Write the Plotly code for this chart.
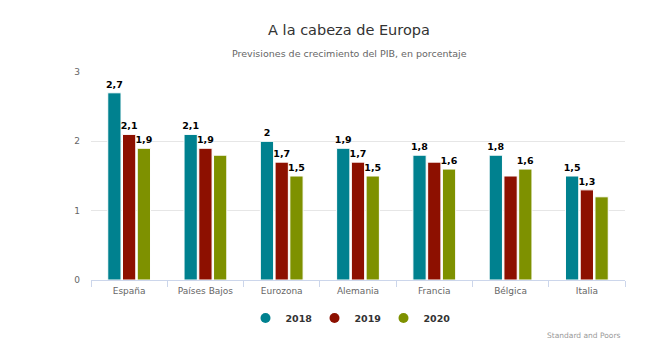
import plotly.graph_objects as go

categories = ["España", "Países Bajos", "Eurozona", "Alemania", "Francia", "Bélgica", "Italia"]
years = ["2018", "2019", "2020"]
v2018 = [2.7, 2.1, 2.0, 1.9, 1.8, 1.8, 1.5]
v2019 = [2.1, 1.9, 1.7, 1.7, 1.7, 1.5, 1.3]
v2020 = [1.9, 1.8, 1.5, 1.5, 1.6, 1.6, 1.2]
# labels hidden in the original (overlap)
show2018 = [True, True, True, True, True, True, True]
show2019 = [True, True, True, True, False, False, True]
show2020 = [True, False, True, True, True, True, False]
colors = ["#00818f", "#8d1000", "#7e9100"]

FONT = "DejaVu Sans"

def fmt(v):
    s = ("%g" % v).replace(".", ",")
    return s

fig = go.Figure()
for name, vals, show, col in zip(years, [v2018, v2019, v2020], [show2018, show2019, show2020], colors):
    fig.add_trace(go.Bar(
        x=categories, y=vals, name=name, marker=dict(color=col, line=dict(color="#ffffff", width=1)),
        text=[fmt(v) if s else "" for v, s in zip(vals, show)],
        textposition="outside", cliponaxis=False, constraintext="none",
        textfont=dict(family=FONT, size=9.5, color="#000000", weight="bold"),
        showlegend=False, hoverinfo="skip",
    ))
    fig.add_trace(go.Scatter(
        x=[None], y=[None], mode="markers", name=name,
        marker=dict(symbol="circle", size=10, color=col), showlegend=True,
    ))

fig.update_layout(
    width=650, height=346,
    margin=dict(l=91, r=25, t=72, b=66),
    paper_bgcolor="#ffffff", plot_bgcolor="#ffffff",
    barmode="group", bargap=0.42, bargroupgap=0.1,
    font=dict(family=FONT, color="#666666"),
    title=dict(text="A la cabeza de Europa", xref="container", x=349/650, xanchor="center",
               yref="container", y=1 - 29.5/346, yanchor="middle",
               font=dict(family=FONT, size=14.5, color="#333333")),
    legend=dict(orientation="h", x=(349 - 91) / 534, xanchor="center", y=-0.183, yanchor="middle",
                font=dict(family=FONT, size=9.5, color="#333333", weight="bold"),
                itemwidth=30, tracegroupgap=0, entrywidth=24, entrywidthmode="pixels"),
    annotations=[
        dict(text="Previsiones de crecimiento del PIB, en porcentaje", xref="paper", yref="paper",
             x=(349 - 91) / 534, y=1.0, yshift=19, showarrow=False, xanchor="center", yanchor="middle",
             font=dict(family=FONT, size=9.5, color="#666666")),
        dict(text="Standard and Poors", xref="paper", yref="paper", x=1.0, xshift=-2,
             y=-0.269, showarrow=False, xanchor="right", yanchor="middle",
             font=dict(family=FONT, size=7.5, color="#999999")),
    ],
)
fig.update_xaxes(
    showline=True, linecolor="#ccd6eb", linewidth=1, ticks="outside", tickson="boundaries",
    ticklen=6, tickcolor="#ccd6eb", showgrid=False, tickangle=0,
    tickfont=dict(family=FONT, size=9, color="#666666"), ticklabelstandoff=2,
)
fig.update_yaxes(
    range=[0, 3], tickvals=[0, 1, 2, 3], ticktext=["0", "1", "2", "3"],
    showgrid=True, gridcolor="#e6e6e6", zeroline=False, showline=False,
    tickfont=dict(family=FONT, size=9, color="#666666"), ticklabelstandoff=10,
)
fig.write_html("out.html")
